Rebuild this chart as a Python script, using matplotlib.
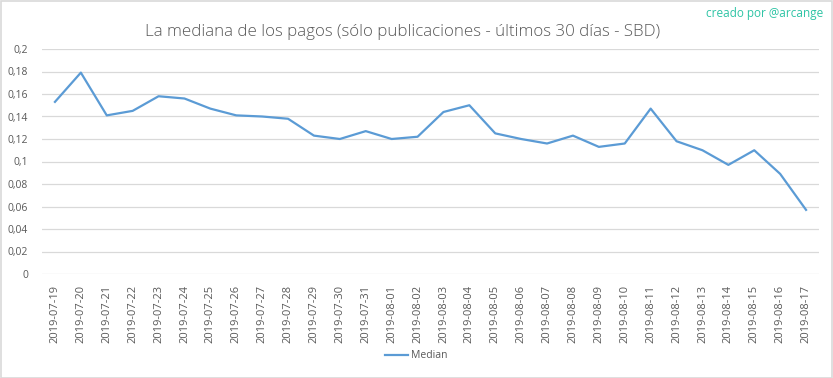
import matplotlib
matplotlib.use("Agg")
import matplotlib.pyplot as plt
from matplotlib.patches import Rectangle

dates = ["2019-07-19", "2019-07-20", "2019-07-21", "2019-07-22", "2019-07-23",
         "2019-07-24", "2019-07-25", "2019-07-26", "2019-07-27", "2019-07-28",
         "2019-07-29", "2019-07-30", "2019-07-31", "2019-08-01", "2019-08-02",
         "2019-08-03", "2019-08-04", "2019-08-05", "2019-08-06", "2019-08-07",
         "2019-08-08", "2019-08-09", "2019-08-10", "2019-08-11", "2019-08-12",
         "2019-08-13", "2019-08-14", "2019-08-15", "2019-08-16", "2019-08-17"]
median = [0.153, 0.179, 0.141, 0.145, 0.158, 0.156, 0.147, 0.141, 0.140, 0.138,
          0.123, 0.120, 0.127, 0.120, 0.122, 0.144, 0.150, 0.125, 0.120, 0.116,
          0.123, 0.113, 0.116, 0.147, 0.118, 0.110, 0.097, 0.110, 0.089, 0.057]
yticks = [0, 0.02, 0.04, 0.06, 0.08, 0.1, 0.12, 0.14, 0.16, 0.18, 0.2]
ytick_labels = ["0", "0,02", "0,04", "0,06", "0,08", "0,1", "0,12", "0,14",
                "0,16", "0,18", "0,2"]

plt.rcParams["font.family"] = ["Open Sans", "DejaVu Sans"]
grey = "#595959"

fig = plt.figure(figsize=(8.33, 3.78), dpi=100)
ax = fig.add_axes([42 / 833, 1 - 274 / 378, (819 - 42) / 833, (274 - 49) / 378])

x = range(len(dates))
ax.plot(x, median, color="#5B9BD5", linewidth=1.6, label="Median")

ax.set_xlim(-0.5, len(dates) - 0.5)
ax.set_ylim(0, 0.2)
ax.set_yticks(yticks)
ax.set_yticklabels(ytick_labels)
ax.set_xticks(list(x))
ax.set_xticklabels(dates, rotation=90)
ax.tick_params(axis="both", length=0, labelsize=7.5, labelcolor=grey)
ax.tick_params(axis="x", labelsize=8, pad=8)
ax.tick_params(axis="y", pad=10)
ax.grid(axis="y", color="#d9d9d9", linewidth=0.9)
ax.set_axisbelow(True)
for s in ax.spines.values():
    s.set_visible(False)

fig.text(0.483, 1 - 32 / 378, "La mediana de los pagos (sólo publicaciones - últimos 30 días - SBD)",
         ha="center", va="center", fontsize=12.2, color=grey, fontweight="light")
fig.text(823 / 833, 1 - 13 / 378, "creado por @arcange", ha="right", va="center",
         fontsize=8.5, color="#2EC4A5")

fig.legend(loc="center", bbox_to_anchor=(0.5, 1 - 356 / 378), frameon=False,
           fontsize=7.5, labelcolor=grey, handlelength=2.2, handletextpad=0.3)

fig.patches.append(Rectangle((0.5 / 833, 0.5 / 378), 1 - 1.5 / 833, 1 - 1.5 / 378,
                             transform=fig.transFigure, fill=False,
                             edgecolor="#d9d9d9", linewidth=1.2))

fig.savefig("out.png", dpi=100)
